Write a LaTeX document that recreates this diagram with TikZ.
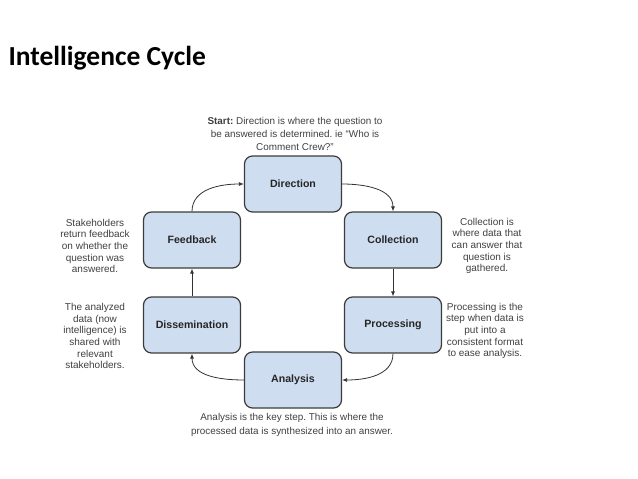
\documentclass[tikz,border=0pt]{standalone}
\usepackage{fontspec}
\setmainfont{Liberation Sans}
\newfontfamily\titlefont{Carlito}
\usetikzlibrary{arrows.meta}
\frenchspacing
\definecolor{boxblue}{RGB}{207,221,240}
\definecolor{boxline}{RGB}{60,60,60}
\tikzset{
  stage/.style={draw=boxline,fill=boxblue,line width=1.2pt,rounded corners=8pt,
    minimum width=97pt,minimum height=56pt,font=\fontsize{10.6}{12}\selectfont\bfseries,text=black!85},
  note/.style={align=center,font=\fontsize{10}{11.7}\selectfont,text=black!75},
  link/.style={-{Latex[length=5pt,width=4pt]},line width=0.8pt,draw=black!80}
}
\begin{document}
\begin{tikzpicture}[x=1pt,y=-1pt]
\useasboundingbox (0,0) rectangle (638,479);
\node[anchor=west,font=\titlefont\fontsize{27.5}{30}\selectfont\bfseries] (title) at (5,58) {Intelligence Cycle};
\node[stage] (dir) at (293,184) {Direction};
\node[stage] (col) at (393,240) {Collection};
\node[stage] (pro) at (393,325) {Processing};
\node[stage] (ana) at (293,380) {Analysis};
\node[stage] (dis) at (192,325) {Dissemination};
\node[stage] (fee) at (192,240) {Feedback};
\draw[link] (dir.east) to [out=0,in=90] (col.north);
\draw[link] (col.south) -- (pro.north);
\draw[link] (pro.south) to [out=-90,in=0] (ana.east);
\draw[link] (ana.west) to [out=180,in=-90] (dis.south);
\draw[link] (dis.north) -- (fee.south);
\draw[link] (fee.north) to [out=90,in=180] (dir.west);
\node[note,font=\fontsize{9.9}{13}\selectfont] (dirnote) at (295,134) {\textbf{Start:} Direction is where the question to\\be answered is determined. ie ``Who is\\Comment Crew?''};
\node[note] (colnote) at (487,246) {Collection is\\where data that\\can answer that\\question is\\gathered.};
\node[note] (pronote) at (485,331) {Processing is the\\step when data is\\put into a\\consistent format\\to ease analysis.};
\node[note,font=\fontsize{9.9}{14}\selectfont] (ananote) at (292,425) {Analysis is the key step. This is where the\\processed data is synthesized into an answer.};
\node[note] (disnote) at (95,336) {The analyzed\\data (now\\intelligence) is\\shared with\\relevant\\stakeholders.};
\node[note] (feenote) at (95,246) {Stakeholders\\return feedback\\on whether the\\question was\\answered.};
\end{tikzpicture}
\end{document}
